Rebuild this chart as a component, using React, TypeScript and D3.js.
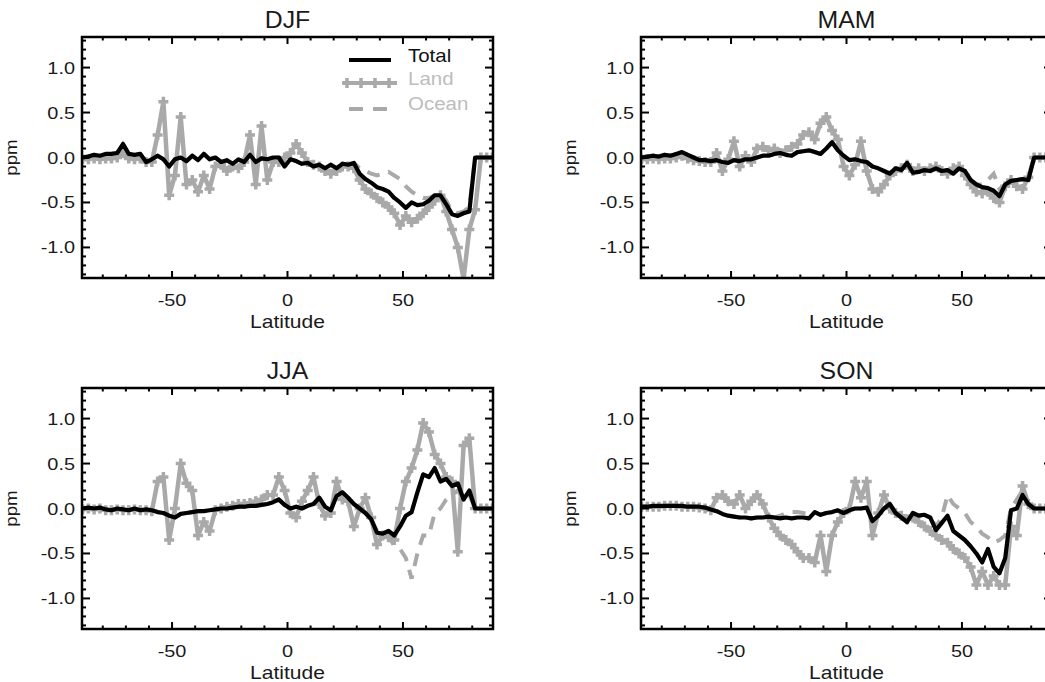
import React from 'react';
import * as d3 from 'd3';

// Latitude grid (degrees)
const LATS = [
  -88.75, -86.25, -83.75, -81.25, -78.75, -76.25, -73.75, -71.25, -68.75, -66.25, -63.75, -61.25,
  -58.75, -56.25, -53.75, -51.25, -48.75, -46.25, -43.75, -41.25, -38.75, -36.25, -33.75, -31.25,
  -28.75, -26.25, -23.75, -21.25, -18.75, -16.25, -13.75, -11.25, -8.75, -6.25, -3.75, -1.25,
  1.25, 3.75, 6.25, 8.75, 11.25, 13.75, 16.25, 18.75, 21.25, 23.75, 26.25, 28.75,
  31.25, 33.75, 36.25, 38.75, 41.25, 43.75, 46.25, 48.75, 51.25, 53.75, 56.25, 58.75,
  61.25, 63.75, 66.25, 68.75, 71.25, 73.75, 76.25, 78.75, 81.25, 83.75, 86.25, 88.75,
];

const DJF_TOTAL = [
  0.00, 0.01, 0.03, 0.02, 0.04, 0.04, 0.05, 0.15, 0.04, 0.03, 0.04, -0.05,
  -0.02, 0.02, -0.02, -0.10, -0.02, 0.00, -0.04, 0.02, -0.03, 0.04, -0.02, 0.00,
  -0.05, -0.03, -0.07, -0.02, -0.05, 0.03, -0.05, -0.01, -0.02, 0.00, 0.00, -0.10,
  -0.02, -0.04, -0.07, -0.06, -0.10, -0.08, -0.12, -0.08, -0.12, -0.07, -0.08, -0.06,
  -0.18, -0.24, -0.28, -0.33, -0.35, -0.38, -0.45, -0.50, -0.56, -0.50, -0.53, -0.52,
  -0.48, -0.42, -0.42, -0.52, -0.63, -0.65, -0.62, -0.60, 0.00, 0.00, 0.00, 0.00,
];
const DJF_LAND = [
  -0.02, -0.02, -0.01, -0.02, -0.01, -0.01, 0.00, 0.05, -0.01, -0.02, -0.01, -0.05,
  -0.05, 0.25, 0.62, -0.42, -0.20, 0.45, -0.30, -0.25, -0.38, -0.20, -0.35, -0.10,
  -0.08, -0.15, -0.10, -0.12, -0.05, 0.25, -0.30, 0.35, -0.25, -0.05, -0.05, 0.00,
  0.05, 0.15, 0.05, -0.05, -0.08, -0.10, -0.15, -0.18, -0.15, -0.10, -0.10, -0.12,
  -0.25, -0.35, -0.40, -0.45, -0.50, -0.55, -0.62, -0.75, -0.65, -0.72, -0.68, -0.62,
  -0.55, -0.48, -0.42, -0.60, -0.80, -1.00, -1.35, -0.80, -0.58, 0.00, 0.00, 0.00,
];
const DJF_OCEAN = [
  0.00, 0.01, 0.03, 0.02, 0.04, 0.04, 0.05, 0.15, 0.04, 0.03, 0.04, -0.05,
  -0.02, 0.02, -0.02, -0.10, -0.02, 0.00, -0.04, 0.02, -0.03, 0.04, -0.02, 0.00,
  -0.05, -0.03, -0.07, -0.02, -0.05, 0.03, -0.05, -0.01, -0.02, 0.00, 0.00, -0.10,
  -0.02, -0.04, -0.07, -0.06, -0.10, -0.08, -0.12, -0.08, -0.12, -0.07, -0.08, -0.06,
  -0.12, -0.15, -0.18, -0.20, -0.18, -0.16, -0.20, -0.24, -0.32, -0.38, -0.42, -0.45,
  -0.45, -0.42, -0.40, -0.48, -0.60, -0.62, -0.60, -0.55, 0.00, 0.00, 0.00, 0.00,
];

const MAM_TOTAL = [
  0.00, 0.01, 0.02, 0.01, 0.03, 0.02, 0.04, 0.06, 0.03, 0.00, -0.03, -0.03,
  -0.04, -0.03, -0.05, -0.06, -0.03, -0.04, -0.02, -0.02, 0.00, 0.02, 0.02, 0.04,
  0.05, 0.03, 0.02, 0.06, 0.07, 0.08, 0.06, 0.04, 0.10, 0.17, 0.08, 0.02,
  -0.03, -0.02, -0.04, -0.05, -0.10, -0.12, -0.15, -0.18, -0.12, -0.14, -0.06, -0.17,
  -0.16, -0.14, -0.15, -0.12, -0.15, -0.14, -0.18, -0.12, -0.15, -0.25, -0.30, -0.33,
  -0.34, -0.37, -0.43, -0.30, -0.26, -0.25, -0.24, -0.25, 0.00, 0.00, 0.00, 0.00,
];
const MAM_LAND = [
  -0.02, -0.02, -0.01, -0.02, -0.01, -0.01, 0.00, 0.02, -0.01, -0.03, -0.04, -0.05,
  -0.05, 0.05, -0.15, -0.02, 0.18, -0.10, 0.02, -0.05, 0.10, 0.12, 0.08, 0.10,
  0.05, 0.08, 0.12, 0.15, 0.25, 0.28, 0.20, 0.38, 0.45, 0.30, 0.20, -0.10,
  -0.20, -0.08, 0.18, -0.15, -0.35, -0.38, -0.30, -0.20, -0.15, -0.12, -0.08, -0.15,
  -0.12, -0.15, -0.12, -0.10, -0.15, -0.18, -0.12, -0.10, -0.20, -0.30, -0.38, -0.40,
  -0.38, -0.45, -0.50, -0.32, -0.25, -0.32, -0.35, -0.22, 0.00, 0.00, 0.00, 0.00,
];
const MAM_OCEAN = [
  0.00, 0.01, 0.02, 0.01, 0.03, 0.02, 0.04, 0.06, 0.03, 0.00, -0.03, -0.03,
  -0.04, -0.03, -0.05, -0.06, -0.03, -0.04, -0.02, -0.02, 0.00, 0.02, 0.02, 0.04,
  0.05, 0.03, 0.02, 0.06, 0.07, 0.08, 0.06, 0.04, 0.10, 0.17, 0.08, 0.02,
  -0.03, -0.02, -0.04, -0.05, -0.10, -0.12, -0.15, -0.18, -0.12, -0.14, -0.06, -0.17,
  -0.16, -0.14, -0.15, -0.12, -0.15, -0.14, -0.18, -0.12, -0.15, -0.25, -0.30, -0.30,
  -0.25, -0.18, -0.35, -0.30, -0.26, -0.25, -0.24, -0.25, 0.00, 0.00, 0.00, 0.00,
];

const JJA_TOTAL = [
  0.00, 0.01, 0.00, 0.01, -0.01, -0.02, 0.00, -0.01, -0.02, 0.00, -0.02, -0.01,
  -0.02, -0.04, -0.05, -0.08, -0.10, -0.06, -0.05, -0.04, -0.03, -0.03, -0.02, -0.01,
  0.00, 0.00, 0.01, 0.02, 0.02, 0.03, 0.03, 0.04, 0.05, 0.07, 0.10, 0.04,
  0.00, 0.02, 0.00, 0.03, 0.05, 0.12, 0.02, -0.02, 0.14, 0.18, 0.12, 0.05,
  0.00, -0.05, -0.12, -0.27, -0.28, -0.25, -0.30, -0.20, -0.08, -0.04, 0.18, 0.38,
  0.35, 0.45, 0.30, 0.33, 0.25, 0.28, 0.10, 0.20, 0.00, 0.00, 0.00, 0.00,
];
const JJA_LAND = [
  -0.01, 0.00, -0.01, 0.00, -0.02, -0.02, -0.01, -0.02, -0.02, -0.01, -0.02, -0.02,
  -0.03, 0.30, 0.35, -0.35, 0.00, 0.50, 0.28, 0.20, -0.30, -0.15, -0.25, -0.02,
  0.00, 0.02, 0.03, 0.05, 0.05, 0.06, 0.08, 0.10, 0.15, 0.15, 0.35, 0.20,
  -0.05, -0.10, 0.08, 0.20, 0.35, 0.05, -0.08, -0.05, 0.30, 0.10, 0.08, -0.20,
  0.00, 0.12, -0.10, -0.40, -0.30, -0.32, -0.35, 0.00, 0.30, 0.45, 0.65, 0.95,
  0.85, 0.60, 0.50, 0.35, 0.30, -0.48, 0.70, 0.78, 0.00, 0.00, 0.00, 0.00,
];
const JJA_OCEAN = [
  0.00, 0.01, 0.00, 0.01, -0.01, -0.02, 0.00, -0.01, -0.02, 0.00, -0.02, -0.01,
  -0.02, -0.04, -0.05, -0.08, -0.10, -0.06, -0.05, -0.04, -0.03, -0.03, -0.02, -0.01,
  0.00, 0.00, 0.01, 0.02, 0.02, 0.03, 0.03, 0.04, 0.05, 0.07, 0.10, 0.04,
  0.00, 0.02, 0.00, 0.03, 0.05, 0.12, 0.02, -0.02, 0.14, 0.18, 0.12, 0.05,
  0.00, -0.05, -0.12, -0.25, -0.28, -0.30, -0.42, -0.45, -0.55, -0.78, -0.50, -0.30,
  -0.30, -0.05, 0.00, 0.10, 0.15, 0.20, 0.10, 0.15, 0.00, 0.00, 0.00, 0.00,
];

const SON_TOTAL = [
  0.02, 0.02, 0.03, 0.03, 0.03, 0.03, 0.03, 0.03, 0.02, 0.02, 0.02, 0.01,
  -0.01, -0.03, -0.06, -0.08, -0.09, -0.10, -0.10, -0.11, -0.10, -0.10, -0.09, -0.10,
  -0.11, -0.10, -0.11, -0.10, -0.10, -0.11, -0.04, -0.07, -0.05, -0.04, -0.02, -0.05,
  -0.02, 0.00, 0.00, 0.01, -0.14, -0.08, 0.00, 0.05, -0.05, -0.10, -0.15, -0.05,
  -0.08, -0.07, -0.10, -0.24, -0.16, -0.08, -0.25, -0.30, -0.35, -0.42, -0.50, -0.60,
  -0.45, -0.65, -0.72, -0.55, -0.02, 0.00, 0.15, 0.05, 0.00, 0.00, 0.00, 0.00,
];
const SON_LAND = [
  0.02, 0.02, 0.02, 0.02, 0.03, 0.03, 0.03, 0.02, 0.02, 0.02, 0.01, 0.00,
  -0.02, 0.12, 0.15, 0.08, 0.05, 0.15, 0.00, 0.08, 0.15, 0.05, -0.10, -0.22,
  -0.30, -0.35, -0.40, -0.48, -0.55, -0.55, -0.60, -0.30, -0.70, -0.30, -0.15, -0.05,
  0.00, 0.30, 0.12, 0.30, -0.30, -0.05, 0.15, 0.00, -0.05, -0.08, -0.12, -0.10,
  -0.15, -0.20, -0.25, -0.30, -0.35, -0.38, -0.45, -0.50, -0.55, -0.65, -0.85, -0.70,
  -0.85, -0.75, -0.85, -0.85, -0.20, -0.30, 0.25, 0.05, 0.00, 0.00, 0.00, 0.00,
];
const SON_OCEAN = [
  0.02, 0.02, 0.03, 0.03, 0.03, 0.03, 0.03, 0.03, 0.02, 0.02, 0.02, 0.01,
  -0.01, -0.03, -0.06, -0.08, -0.09, -0.10, -0.10, -0.11, -0.10, -0.10, -0.09, -0.10,
  -0.08, -0.05, -0.04, -0.04, -0.05, -0.06, -0.04, -0.07, -0.05, -0.04, -0.02, -0.05,
  -0.02, 0.00, 0.00, 0.01, -0.14, -0.08, 0.00, 0.05, -0.05, -0.10, -0.15, -0.05,
  -0.08, -0.07, -0.10, -0.20, -0.10, 0.15, 0.05, 0.00, -0.05, -0.15, -0.20, -0.28,
  -0.32, -0.38, -0.35, -0.30, 0.00, 0.10, 0.20, 0.05, 0.00, 0.00, 0.00, 0.00,
];

const SEASONS = ['DJF', 'MAM', 'JJA', 'SON'];
const SERIES_NAMES = ['Total', 'Land', 'Ocean'];
const X_TICKS = [-50, 0, 50];
const X_TICK_LABELS = ['-50', '0', '50'];
const X_MINOR = [-80, -70, -60, -40, -30, -20, -10, 10, 20, 30, 40, 60, 70, 80];
const Y_TICKS = [-1.0, -0.5, 0.0, 0.5, 1.0];
const Y_TICK_LABELS = ['-1.0', '-0.5', '0.0', '0.5', '1.0'];
const X_LABEL = 'Latitude';
const Y_LABEL = 'ppm';

const DATA: Record<string, { total: number[]; land: number[]; ocean: number[] }> = {
  DJF: { total: DJF_TOTAL, land: DJF_LAND, ocean: DJF_OCEAN },
  MAM: { total: MAM_TOTAL, land: MAM_LAND, ocean: MAM_OCEAN },
  JJA: { total: JJA_TOTAL, land: JJA_LAND, ocean: JJA_OCEAN },
  SON: { total: SON_TOTAL, land: SON_LAND, ocean: SON_OCEAN },
};

// layout
const LAYOUT: Record<string, { left: number; top: number }> = {
  DJF: { left: 82, top: 37 },
  MAM: { left: 641, top: 37 },
  JJA: { left: 82, top: 388 },
  SON: { left: 641, top: 388 },
};
const PW = 411;
const PH = 241;
const GRAY = '#a9a9a9';
const FONT = '"Liberation Sans", Arial, Helvetica, sans-serif';
const SX = 1.17;

function Txt(props: {
  x: number; y: number; size: number; anchor?: string; fill?: string; rotate?: number; sx?: number; children: React.ReactNode;
}) {
  const { x, y, size, anchor = 'start', fill = '#1a1a1a', rotate = 0, sx = SX, children } = props;
  return (
    <text
      transform={`translate(${x},${y}) rotate(${rotate}) scale(${sx},1)`}
      fontSize={size}
      fontFamily={FONT}
      textAnchor={anchor}
      fill={fill}
    >
      {children}
    </text>
  );
}

function plusPath(pts: [number, number][], r: number) {
  return pts.map(([x, y]) => `M${x - r},${y}H${x + r}M${x},${y - r}V${y + r}`).join('');
}

function Panel({ name }: { name: string }) {
  const { left, top } = LAYOUT[name];
  const d = DATA[name];
  const x = d3.scaleLinear().domain([-89, 89]).range([left, left + PW]);
  const y = d3.scaleLinear().domain([-1.34, 1.34]).range([top + PH, top]);
  const line = d3
    .line<number>()
    .x((_, i) => x(LATS[i]))
    .y((v) => y(v));
  const landPts: [number, number][] = d.land.map((v, i) => [x(LATS[i]), y(v)]);
  const yMinor = d3.range(-13, 14).map((k) => k / 10).filter((v) => Math.abs((v * 10) % 5) > 0.01);
  const bottom = top + PH;
  const right = left + PW;
  const clipId = `clip-${name}`;
  return (
    <g>
      <defs>
        <clipPath id={clipId}>
          <rect x={left} y={top} width={PW} height={PH} />
        </clipPath>
      </defs>
      <g clipPath={`url(#${clipId})`}>
        <path d={line(d.land) || ''} fill="none" stroke={GRAY} strokeWidth={4.5} strokeLinejoin="round" />
        <path d={plusPath(landPts, 5)} fill="none" stroke={GRAY} strokeWidth={3.5} />
        <path d={line(d.ocean) || ''} fill="none" stroke={GRAY} strokeWidth={4} strokeDasharray="13 9" />
        <path d={line(d.total) || ''} fill="none" stroke="#000" strokeWidth={4.2} strokeLinejoin="round" />
      </g>
      {/* ticks */}
      <g stroke="#000" strokeWidth={2}>
        {X_TICKS.map((t) => (
          <g key={`xt${t}`}>
            <line x1={x(t)} x2={x(t)} y1={bottom} y2={bottom - 7} />
            <line x1={x(t)} x2={x(t)} y1={top} y2={top + 7} />
          </g>
        ))}
        {X_MINOR.map((t) => (
          <g key={`xm${t}`}>
            <line x1={x(t)} x2={x(t)} y1={bottom} y2={bottom - 3.5} />
            <line x1={x(t)} x2={x(t)} y1={top} y2={top + 3.5} />
          </g>
        ))}
        {Y_TICKS.map((t) => (
          <g key={`yt${t}`}>
            <line x1={left} x2={left + 8} y1={y(t)} y2={y(t)} />
            <line x1={right} x2={right - 8} y1={y(t)} y2={y(t)} />
          </g>
        ))}
        {yMinor.map((t) => (
          <g key={`ym${t}`}>
            <line x1={left} x2={left + 4} y1={y(t)} y2={y(t)} />
            <line x1={right} x2={right - 4} y1={y(t)} y2={y(t)} />
          </g>
        ))}
      </g>
      <rect x={left} y={top} width={PW} height={PH} fill="none" stroke="#000" strokeWidth={2.5} />
      {/* tick labels */}
      {X_TICKS.map((t, i) => (
        <Txt key={`xl${t}`} x={x(t)} y={bottom + 28} size={17} anchor="middle">
          {X_TICK_LABELS[i]}
        </Txt>
      ))}
      {Y_TICKS.map((t, i) => (
        <Txt key={`yl${t}`} x={left - 7} y={y(t) + 6} size={17} anchor="end">
          {Y_TICK_LABELS[i]}
        </Txt>
      ))}
      <Txt x={x(0)} y={bottom + 50} size={18} anchor="middle">
        {X_LABEL}
      </Txt>
      <Txt x={left - 65} y={(top + bottom) / 2} size={16} anchor="middle" rotate={-90}>
        {Y_LABEL}
      </Txt>
      <Txt x={x(0)} y={top - 9} size={23} anchor="middle" sx={1.08}>
        {name}
      </Txt>
      {name === 'DJF' && <Legend left={left} top={top} />}
    </g>
  );
}

function Legend({ left, top }: { left: number; top: number }) {
  const lx0 = left + 267;
  const lx1 = left + 309;
  const tx = left + 326;
  const markerXs = [lx0 - 2, lx0 + 12, lx0 + 26, lx0 + 40];
  return (
    <g>
      <line x1={lx0} x2={lx1} y1={top + 23} y2={top + 23} stroke="#000" strokeWidth={4.2} />
      <Txt x={tx} y={top + 25} size={17.5} fill="#111">{SERIES_NAMES[0]}</Txt>
      <line x1={lx0 - 6} x2={lx1 + 6} y1={top + 46} y2={top + 46} stroke={GRAY} strokeWidth={4} />
      <path d={plusPath(markerXs.map((mx) => [mx, top + 46] as [number, number]), 5)} stroke={GRAY} strokeWidth={3.5} fill="none" />
      <Txt x={tx} y={top + 48} size={17.5} fill="#bdbdbd">{SERIES_NAMES[1]}</Txt>
      <line x1={lx0} x2={lx1 - 4} y1={top + 72} y2={top + 72} stroke={GRAY} strokeWidth={4} strokeDasharray="14 10" />
      <Txt x={tx} y={top + 73} size={17.5} fill="#bdbdbd">{SERIES_NAMES[2]}</Txt>
    </g>
  );
}

export default function App() {
  return (
    <svg
      width={1045}
      height={682}
      style={{ position: 'absolute', left: 0, top: 0, background: '#fff' }}
    >
      <rect x={0} y={0} width={1045} height={682} fill="#fff" />
      {SEASONS.map((s) => (
        <Panel key={s} name={s} />
      ))}
    </svg>
  );
}
